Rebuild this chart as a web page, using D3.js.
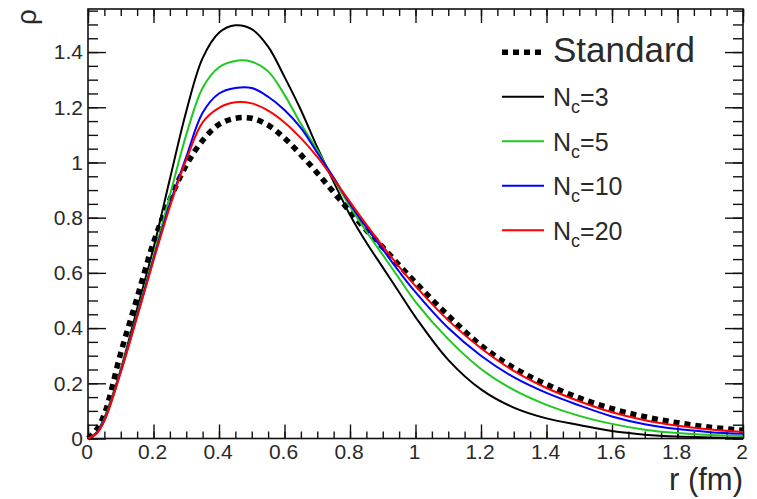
<!DOCTYPE html>
<html>
<head>
<meta charset="utf-8">
<script src="https://cdn.jsdelivr.net/npm/d3@7"></script>
<style>
body { margin: 0; background: #fff; }
text { font-family: "Liberation Sans", Arial, sans-serif; fill: #2a2a2a; }
</style>
</head>
<body>
<div id="chart"></div>
<script>
// radius (fm) where the curves were read
var r_values = [0, 0.025, 0.05, 0.1, 0.15, 0.2, 0.25, 0.3, 0.35, 0.4, 0.45, 0.5, 0.55, 0.6, 0.65, 0.7, 0.75, 0.8, 0.85, 0.9, 0.95, 1.0,
                1.1, 1.2, 1.3, 1.4, 1.5, 1.6, 1.7, 1.8, 1.9, 2.0];

var standard = [0, 0.03, 0.088, 0.31, 0.51, 0.71, 0.865, 0.99, 1.08, 1.138, 1.16, 1.16, 1.135, 1.088, 1.028, 0.962, 0.892, 0.822, 0.755, 0.693, 0.628, 0.565,
                0.445, 0.337, 0.256, 0.196, 0.147, 0.108, 0.079, 0.057, 0.041, 0.030];
var nc3 = [0, 0.02, 0.075, 0.25, 0.47, 0.69, 0.94, 1.185, 1.378, 1.47, 1.497, 1.483, 1.42, 1.31, 1.19, 1.055, 0.93, 0.81, 0.71, 0.62, 0.53, 0.44,
           0.285, 0.178, 0.112, 0.073, 0.049, 0.027, 0.014, 0.007, 0.004, 0.002];
var nc5 = [0, 0.018, 0.07, 0.245, 0.45, 0.66, 0.88, 1.10, 1.27, 1.345, 1.368, 1.365, 1.33, 1.245, 1.14, 1.045, 0.94, 0.84, 0.75, 0.665, 0.58, 0.495,
           0.36, 0.252, 0.176, 0.122, 0.082, 0.053, 0.032, 0.02, 0.013, 0.009];
var nc10 = [0, 0.017, 0.066, 0.242, 0.445, 0.65, 0.85, 1.02, 1.18, 1.25, 1.27, 1.27, 1.238, 1.19, 1.125, 1.035, 0.945, 0.85, 0.765, 0.685, 0.605, 0.53,
            0.40, 0.30, 0.222, 0.165, 0.12, 0.08, 0.052, 0.034, 0.023, 0.017];
var nc20 = [0, 0.016, 0.064, 0.24, 0.44, 0.645, 0.84, 1.01, 1.145, 1.198, 1.218, 1.214, 1.188, 1.145, 1.088, 1.02, 0.94, 0.857, 0.775, 0.697, 0.622, 0.552,
            0.428, 0.327, 0.245, 0.183, 0.135, 0.095, 0.066, 0.046, 0.033, 0.024];

var x_ticks = [0, 0.2, 0.4, 0.6, 0.8, 1, 1.2, 1.4, 1.6, 1.8, 2];
var y_ticks = [0, 0.2, 0.4, 0.6, 0.8, 1, 1.2, 1.4];
var legend_names = ['Standard', 'N', 'N', 'N', 'N'];
var legend_subs = ['', 'c', 'c', 'c', 'c'];
var legend_values = ['', '=3', '=5', '=10', '=20'];

var chart_width = 757;
var chart_height = 499;
var pad_left = 88, pad_right = 743, pad_top = 9, pad_bottom = 438.5;

var series = [
	{data: standard, color: '#000', width: 5.5, dash: '6,5'},
	{data: nc3, color: '#000', width: 2, dash: null},
	{data: nc5, color: '#1ec81e', width: 2, dash: null},
	{data: nc10, color: '#0000ff', width: 2, dash: null},
	{data: nc20, color: '#ff0000', width: 2, dash: null}
];

function drawChart() {
	var svg = d3.select('#chart')
				.append('svg')
				.attr('width', chart_width)
				.attr('height', chart_height);

	svg.append('rect').attr('width', chart_width).attr('height', chart_height).attr('fill', '#fff');

	//scales
	var x_scale = d3.scaleLinear().domain([0, 2]).range([pad_left, pad_right]);
	var y_scale = d3.scaleLinear().domain([0, 1.556]).range([pad_bottom, pad_top]);

	var minor_x = d3.range(0, 2.001, 0.05);
	var minor_y = d3.range(0, 1.556, 0.05);
	var fmt = d3.format('~g');

	//bottom axis, ticks pointing into the frame
	svg.append('g')
		.attr('transform', 'translate(0,' + pad_bottom + ')')
		.call(d3.axisBottom(x_scale).tickValues(minor_x).tickSize(-7).tickFormat(''));
	var xb = svg.append('g')
		.attr('class', 'x-axis')
		.attr('transform', 'translate(0,' + pad_bottom + ')')
		.call(d3.axisBottom(x_scale).tickValues(x_ticks).tickSize(-14).tickPadding(5).tickFormat(fmt));
	xb.selectAll('text').attr('font-size', 21).attr('dx', -1.5).attr('dy', '0.74em');

	//top axis
	svg.append('g')
		.attr('transform', 'translate(0,' + pad_top + ')')
		.call(d3.axisTop(x_scale).tickValues(minor_x).tickSize(-7).tickFormat(''));
	svg.append('g')
		.attr('transform', 'translate(0,' + pad_top + ')')
		.call(d3.axisTop(x_scale).tickValues(x_ticks).tickSize(-14).tickFormat(''));

	//left axis
	svg.append('g')
		.attr('transform', 'translate(' + pad_left + ',0)')
		.call(d3.axisLeft(y_scale).tickValues(minor_y).tickSize(-10).tickFormat(''));
	var yl = svg.append('g')
		.attr('class', 'y-axis')
		.attr('transform', 'translate(' + pad_left + ',0)')
		.call(d3.axisLeft(y_scale).tickValues(y_ticks).tickSize(-18).tickPadding(5).tickFormat(fmt));
	yl.selectAll('text').attr('font-size', 21);

	//right axis
	svg.append('g')
		.attr('transform', 'translate(' + pad_right + ',0)')
		.call(d3.axisRight(y_scale).tickValues(minor_y).tickSize(-10).tickFormat(''));
	svg.append('g')
		.attr('transform', 'translate(' + pad_right + ',0)')
		.call(d3.axisRight(y_scale).tickValues(y_ticks).tickSize(-18).tickFormat(''));

	svg.selectAll('.domain').remove();
	svg.selectAll('.tick line').attr('stroke', '#111').attr('stroke-width', 1.4);

	//frame
	svg.append('rect')
		.attr('x', pad_left).attr('y', pad_top)
		.attr('width', pad_right - pad_left).attr('height', pad_bottom - pad_top)
		.attr('fill', 'none').attr('stroke', '#111').attr('stroke-width', 1.6);

	//curves
	var line = d3.line()
				.x(function(d, i) { return x_scale(r_values[i]); })
				.y(function(d) { return y_scale(d); })
				.curve(d3.curveCatmullRom.alpha(0.5));

	svg.append('g').selectAll('path')
		.data(series)
		.enter()
		.append('path')
		.attr('d', function(s) { return line(s.data); })
		.attr('fill', 'none')
		.attr('stroke', function(s) { return s.color; })
		.attr('stroke-width', function(s) { return s.width; })
		.attr('stroke-dasharray', function(s) { return s.dash; });

	//legend
	var legend = svg.append('g').selectAll('g')
		.data(series)
		.enter()
		.append('g')
		.attr('transform', function(d, i) { return 'translate(502,' + (52.3 + i * 44.5) + ')'; });

	legend.append('line')
		.attr('x1', 0).attr('x2', 42)
		.attr('stroke', function(s) { return s.color; })
		.attr('stroke-width', function(s) { return s.width; })
		.attr('stroke-dasharray', function(s) { return s.dash; });

	var lt = legend.append('text')
		.attr('x', 51)
		.attr('y', function(d, i) { return i == 0 ? 10 : 9.5; })
		.attr('font-size', function(d, i) { return i == 0 ? 35 : 25; });
	lt.append('tspan').text(function(d, i) { return legend_names[i]; });
	lt.append('tspan').attr('font-size', 18).attr('dy', 7).text(function(d, i) { return legend_subs[i]; });
	lt.append('tspan').attr('dy', -7).text(function(d, i) { return legend_values[i]; });

	//axis titles
	svg.append('text')
		.attr('x', pad_right).attr('y', 490)
		.attr('text-anchor', 'end')
		.attr('font-size', 31)
		.text('r (fm)');

	svg.append('text')
		.attr('transform', 'translate(36,9) rotate(-90)')
		.attr('text-anchor', 'end')
		.attr('font-size', 28)
		.text('ρ');
}

drawChart();
</script>
</body>
</html>
